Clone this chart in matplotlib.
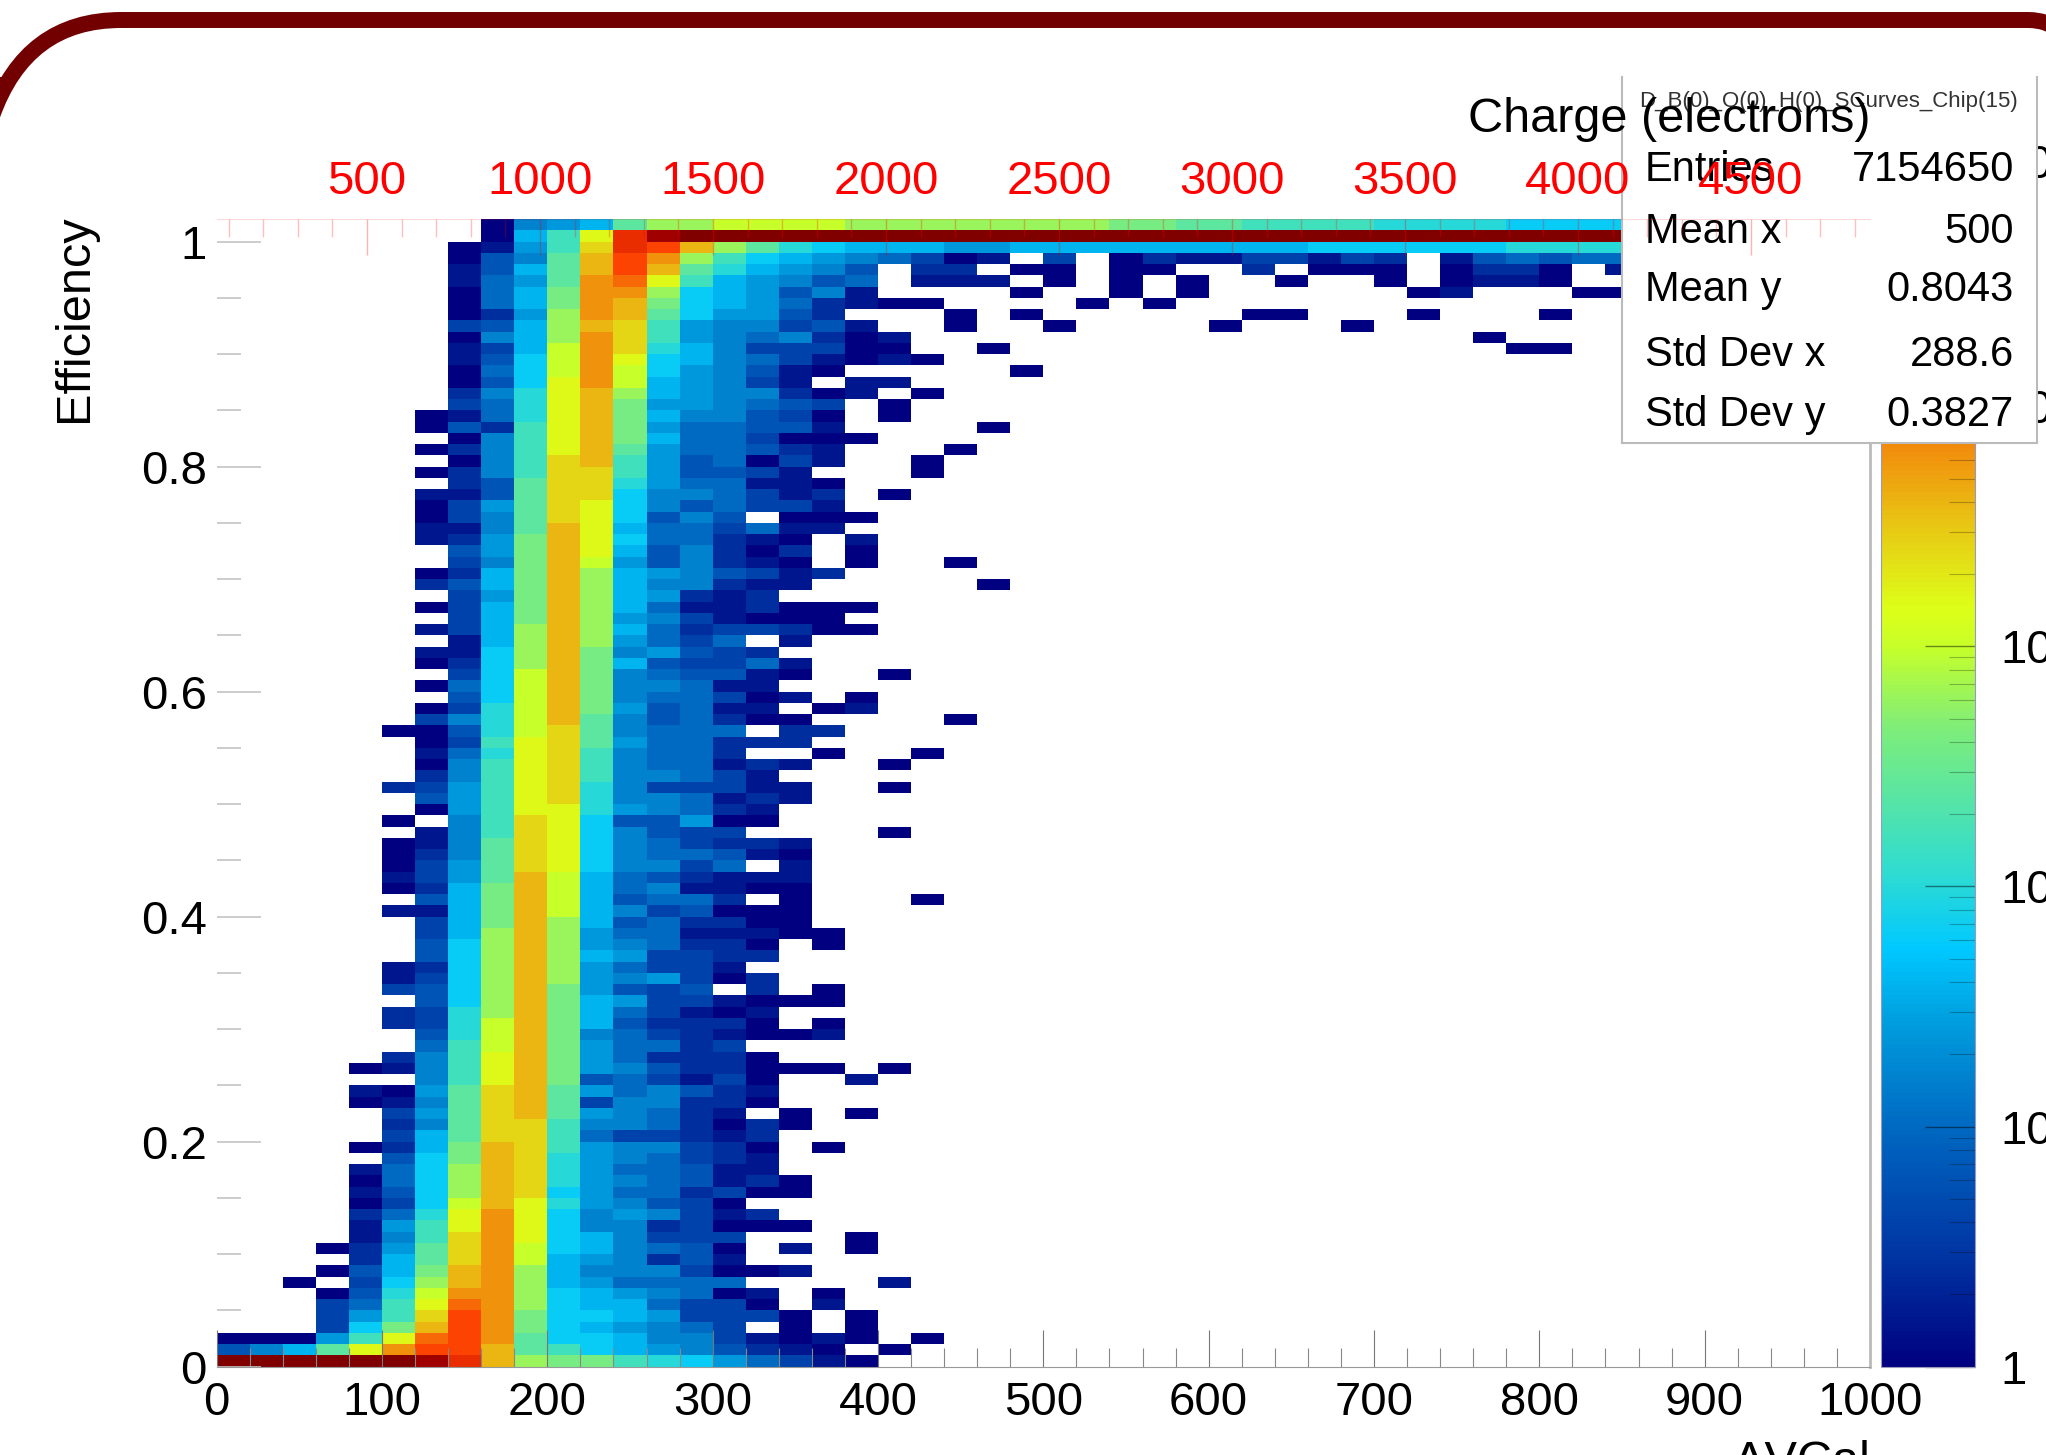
import numpy as np
import matplotlib
matplotlib.use("Agg")
import matplotlib.pyplot as plt
from matplotlib.colors import LinearSegmentedColormap, LogNorm
from matplotlib.patches import PathPatch, Rectangle
from matplotlib.path import Path
from matplotlib.ticker import FixedLocator, FixedFormatter, LogLocator, NullFormatter
from matplotlib.transforms import Affine2D

plt.rcParams['font.family'] = ['Liberation Sans', 'DejaVu Sans']

W, H = 2046, 1455

# bins of the 2D histogram
x_edges = list(range(0, 1020, 20))
y_edges = [i / 100 for i in range(103)]

# one string per efficiency bin, bottom row first, one letter per DeltaVCal bin
# '.' = empty, 'a' = 1 entry, every next letter = 0.2 decades more
hist_rows = [
    "yyyyyyxwsonnlkjhfdba",
    "egimqtvvsmljihgecba.a",
    "aaahlquvtmjjiggdbaba.a",
    "...djnsvtnjihgfd.a.a",
    "...dhlrvtnjjihddda.a",
    "...dflqutojiifdda.b",
    "...aekpttojihgfab.a",
    "..a.djostoihffff....b",
    "...aeinstoigggdaab",
    "....cimrtpihgceb",
    "...achmrtpjigfea.b.a",
    "....bglrtqjigddd...a",
    "....bhlqtqjggcdaaa",
    "....cfkqtqjghgdbc",
    "....adjpsqkhgeda",
    "....bejosrjhffcdaa",
    "....afjosrkhgfebca",
    "....bfjosrkhffebb",
    ".....ejnsrkhgfdcb",
    "....acinsrlhggdca.a",
    ".....dimrrlfddcbc",
    ".....cgmrrlggfcaca",
    ".....dhmrsmhgfcb.a.a",
    "....abgmrsmdggcca",
    "....bahmrsmhfgecb",
    "......glqsnefdbda..b",
    "....abglqsnhgeccaaa.a",
    ".....cglqsnhfccca",
    "......flpsnhffcd",
    "......ekpsngfdcbaab",
    ".....cdkpsnieccca.a",
    ".....cdkosnifdbab",
    "......ejosnihddbaaa",
    ".....dejosnhede.c.a",
    ".....bdjosohghdac",
    ".....bcjosohfddb",
    "......ejosoihddcc",
    "......ejosohgfcca.a",
    "......diosohffbbbaa",
    "......dinsoiefccaa",
    ".....bbinspigdeaaa",
    "......einspieffc.a...a",
    ".....acinspifgbbaa",
    ".....bdhmspifecbbb",
    ".....adhmrqjggdf.b",
    ".....acgmrqjgffeba",
    ".....abgmrqjgfdccb",
    "......bglrqjgedd....a",
    ".....a.glrqjeehaa",
    "......ahlqqkhgfcb",
    "......ehlqrkggfbcb",
    ".....cdhlqrkgdddbb..a",
    "......cglqrlggfdb",
    "......aglqrlgffbcb..a",
    "......bfkqrlgffc..a..a",
    "......adlqrmhffccc",
    ".....aaekprmgfff.cc",
    "......dgkpsmgefcaa....a",
    "......adkpsnhefbb.ab",
    ".......ejpsngffdab.a",
    "......afjpsnggfbb",
    ".......djpsngfeeba..a",
    "......acjosnieddfb",
    "......bbjosnghedc",
    ".......biosohfdf.b",
    "......bdiosoifcddcaa",
    ".......dinsohgdbaaa",
    "......adinsoifbbcaaa",
    ".......dhnsoihcbc",
    "......ceinsoiggcbb.....a",
    "......acinsoihgedbc",
    ".......dgnsphegcba.a..a",
    ".......ehnsqiegcac.a",
    "......bchnsqjffcba.b",
    "......bbgmsqiffdfbb",
    "......adgmrqjege.aaa",
    "......adhmrqjgefddb",
    "......bbemrrjggfdbc.a",
    ".......cemrrkhffbba",
    "......acglrrlheedb...a",
    ".......aglrslhefadb..a",
    "......acglqsmhffecb...a",
    ".......aglqsniffdaaa",
    "......aeclqsnhffeeb....a",
    "......abfkqsniggeda.a",
    ".......dfkqsnhhgfed.a",
    ".......cgkqsoihggcab.a",
    ".......aejqtpihgdb.bb",
    ".......afjptpjhgeba.....a",
    ".......bejptqjigfdbaba",
    ".......bdiptrkigdddaa..a...............aa",
    ".......agiotrlhgfgcab.................a",
    ".......deiosrlhggdeb..a..a....a...a",
    ".......achotsmjhhec...a.a......aa...a...a",
    ".......afintsnjihfcbaa....a.a",
    ".......afinttojihegb....a..a.a......ab...aa",
    ".......bfhmtuqlihgef.bbb.a.a.a..a..a.abba",
    ".......beimsvsmkihge.cc.aa.aa..c.aaa.acca.b",
    ".......aegmsvtoljihgfdab.d.acbbddbdc.befeff",
    ".......abhlrwvsomkjiiihhiiiiiiiiijjjjjjkkkk",
    "........ailqwxyyyyyyyyyyyyyyyyyyyyyyyyyyyyy",
    "........aghimooppppoooooooonnmmllllkkkkjjjj",
]

stats_title = "D_B(0)_O(0)_H(0)_SCurves_Chip(15)"
stats_names = ["Entries", "Mean x", "Mean y", "Std Dev x", "Std Dev y"]
stats_values = ["7154650", "500", "0.8043", "288.6", "0.3827"]

# charge axis on top: electrons = 65 + 4.777 * VCal
charge_ticks = [500, 1000, 1500, 2000, 2500, 3000, 3500, 4000, 4500]
y_ticks = [0, 0.2, 0.4, 0.6, 0.8, 1]
y_labels = ["0", "0.2", "0.4", "0.6", "0.8", "1"]
x_ticks = list(range(0, 1100, 100))
log_max = 4.78

palette = [
    (0.0, "#000080"), (0.086, "#0030a0"), (0.203, "#0066c0"), (0.304, "#00a0e0"),
    (0.363, "#00c8ff"), (0.432, "#30dcd0"), (0.559, "#80ee78"), (0.629, "#c8ff28"),
    (0.661, "#ddff18"), (0.732, "#e8c814"), (0.805, "#f28a0c"), (0.89, "#ff3800"),
    (0.935, "#e02800"), (0.965, "#a00000"), (1.0, "#800000"),
]


def rect(left, top, right, bottom):
    # axes rectangle from picture pixels
    return [left / W, 1 - bottom / H, (right - left) / W, (bottom - top) / H]


def decode_rows(rows):
    counts = np.full((len(rows), len(x_edges) - 1), np.nan)
    for r, row in enumerate(rows):
        for c, letter in enumerate(row):
            if letter != '.':
                counts[r, c] = 10 ** min(0.2 * (ord(letter) - ord('a')), log_max)
    return counts


fig = plt.figure(figsize=(W / 100, H / 100), dpi=100, facecolor='white')

# slide frame behind the plot
to_px = Affine2D().scale(1, -1).translate(0, H)
frame = Path([(-8, 116), (26, 20), (121, 20), (2028, 20), (2050, 20), (2062, 34)],
             [Path.MOVETO, Path.CURVE3, Path.CURVE3, Path.LINETO, Path.CURVE3, Path.CURVE3])
fig.add_artist(PathPatch(frame, fc='none', ec='#730000', lw=11.5, transform=to_px, capstyle='butt'))
fig.add_artist(Rectangle((0, 77), 10, 16, fc='#730000', ec='none', transform=to_px))

# main histogram
ax = fig.add_axes(rect(216.7, 219, 1870, 1366.7), zorder=1)
cmap = LinearSegmentedColormap.from_list("root_rainbow", palette, N=256)
cmap.set_bad('white')
norm = LogNorm(vmin=1, vmax=10 ** log_max)
mesh = ax.pcolormesh(x_edges, y_edges, np.ma.masked_invalid(decode_rows(hist_rows)),
                     cmap=cmap, norm=norm)
ax.set_xlim(0, 1000)
ax.set_ylim(0, 1.02)
ax.spines['left'].set_visible(False)
ax.spines['top'].set_visible(False)
ax.spines['bottom'].set_color('#999999')
ax.spines['right'].set_color('#bbbbbb')
ax.spines['right'].set_linewidth(2)
ax.set_xticks(x_ticks)
ax.set_xticks(range(0, 1000, 20), minor=True)
ax.set_yticks(y_ticks)
ax.set_yticklabels(y_labels)
ax.set_yticks(np.arange(0, 1.01, 0.05), minor=True)
ax.tick_params(axis='x', which='major', direction='in', length=27, width=0.8,
               color='#777777', labelsize=34, pad=10.5)
ax.tick_params(axis='x', which='minor', direction='in', length=14, width=0.8, color='#888888')
ax.tick_params(axis='y', which='major', direction='in', length=32, width=1.2,
               color='#c4c4c4', labelsize=34, pad=7)
ax.tick_params(axis='y', which='minor', direction='in', length=17, width=1.2, color='#c4c4c4')
fig.text(97 / W, 1 - 214 / H, "Efficiency", rotation=90, ha='right', va='top', fontsize=35)
fig.text(1870 / W, 1 - 1475 / H, "\u0394VCal", ha='right', va='baseline', fontsize=35)

# palette
cax = fig.add_axes(rect(1881, 219, 1975, 1366.7), zorder=1)
cb = fig.colorbar(mesh, cax=cax)
cb.outline.set_edgecolor('#9999bb')
cb.outline.set_linewidth(0.8)
cax.yaxis.set_major_locator(FixedLocator([1, 10, 100, 1000, 10000]))
cax.yaxis.set_major_formatter(FixedFormatter(["1", "10", "10", "10", "10"]))
cax.yaxis.set_minor_locator(LogLocator(base=10, subs=range(2, 10), numticks=12))
cax.yaxis.set_minor_formatter(NullFormatter())
cax.tick_params(which='major', direction='in', length=36, width=1.0, color='#00000077',
                labelsize=34, pad=18)
cax.tick_params(which='minor', direction='in', length=19, width=0.8, color='#00000044')
fig.text(2000 / W, 1 - 166 / H, "10", ha='left', va='center', fontsize=34, zorder=1.5)

# stats box covers the palette top
stats_ax = fig.add_axes(rect(1622, 77, 2037, 443), zorder=2, facecolor='white')
stats_ax.set_xlim(1622, 2037)
stats_ax.set_ylim(443, 77)
stats_ax.set_xticks([])
stats_ax.set_yticks([])
stats_ax.spines['top'].set_visible(False)
for side in ['left', 'right', 'bottom']:
    stats_ax.spines[side].set_color('#bbbbbb')
    stats_ax.spines[side].set_linewidth(1.5)
stats_ax.text(1829, 102, stats_title, ha='center', va='center', fontsize=16, color='#333333')
for name, value, y_pos in zip(stats_names, stats_values, [170, 232, 290, 355, 415]):
    stats_ax.text(1645, y_pos, name, ha='left', va='center', fontsize=30)
    stats_ax.text(2014, y_pos, value, ha='right', va='center', fontsize=30)

# charge axis and its title go over the stats box
top_ax = fig.add_axes(rect(216.7, 219, 1870, 1366.7), zorder=3, facecolor='none')
top_ax.set_xlim(65.6, 4844)
top_ax.set_ylim(0, 1)
top_ax.set_yticks([])
for side in ['left', 'right', 'bottom']:
    top_ax.spines[side].set_visible(False)
top_ax.spines['top'].set_color((1, 0, 0, 0.15))
top_ax.xaxis.tick_top()
top_ax.set_xticks(charge_ticks)
top_ax.set_xticks(range(100, 4844, 100), minor=True)
top_ax.tick_params(axis='x', which='major', direction='in', length=26, width=1.0,
                   color=(1, 0, 0, 0.3), labelcolor='red', labelsize=34, pad=10.5)
top_ax.tick_params(axis='x', which='minor', direction='in', length=13, width=1.0,
                   color=(1, 0, 0, 0.25))
top_ax.text(1.0, 1 + 87 / 1147.7, "Charge (electrons)", transform=top_ax.transAxes,
            ha='right', va='baseline', fontsize=35)

fig.savefig("out.png", dpi=100, facecolor='white')
